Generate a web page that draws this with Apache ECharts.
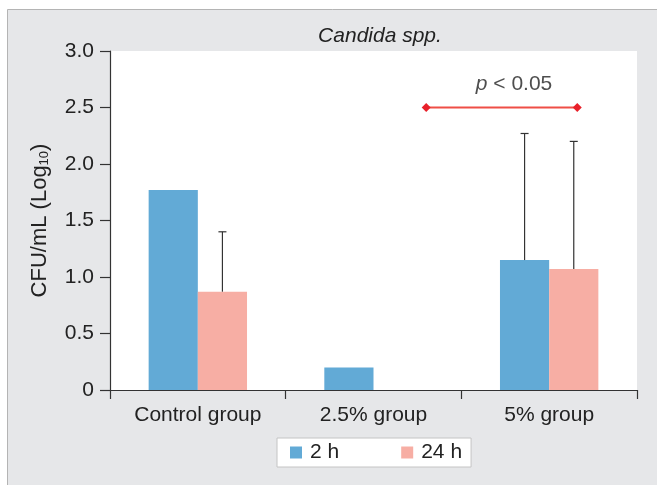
<!DOCTYPE html>
<html><head><meta charset="utf-8">
<script src="https://cdn.jsdelivr.net/npm/echarts@6/dist/echarts.min.js"></script>
<style>html,body{margin:0;padding:0;background:#fff}#c{width:657px;height:485px}</style>
</head><body><div id="c"></div>
<script>
var categories = ['Control group', '2.5% group', '5% group'];
var seriesNames = ['2 h', '24 h'];
var values2h = [1.77, 0.2, 1.15];
var values24h = [0.87, 0, 1.07];
var errUpper2h = [null, null, 2.27];
var errUpper24h = [1.40, null, 2.20];
var yTicks = [0, 0.5, 1.0, 1.5, 2.0, 2.5, 3.0];
var sigLine = [[1.80, 2.5], [2.66, 2.5]];
var sigLabel = [[2.30, 2.71]];

var FONT = '"Liberation Sans", Arial, sans-serif';
var FS = 21;
var chart = echarts.init(document.getElementById('c'));

function errData(vals, ups) {
  var out = [];
  for (var i = 0; i < vals.length; i++) if (ups[i] != null) out.push([i, vals[i], ups[i]]);
  return out;
}
function errRender(sign) {
  return function (params, api) {
    var band = api.size([1, 0])[0];
    var bw = band * 0.56 / 2;
    var off = sign * bw / 2;
    var lo = api.coord([api.value(0), api.value(1)]);
    var hi = api.coord([api.value(0), api.value(2)]);
    var x = lo[0] + off;
    var cap = 4;
    return {
      type: 'group',
      children: [
        { type: 'line', shape: { x1: x, y1: lo[1], x2: x, y2: hi[1] }, style: { stroke: '#333', lineWidth: 1.2 } },
        { type: 'line', shape: { x1: x - cap, y1: hi[1], x2: x + cap, y2: hi[1] }, style: { stroke: '#333', lineWidth: 1.2 } }
      ]
    };
  };
}

chart.setOption({
  animation: false,
  backgroundColor: '#fff',
  textStyle: { fontFamily: FONT },
  graphic: [{
    type: 'rect', left: 7, top: 9, z: -10,
    shape: { width: 660, height: 490 },
    style: { fill: '#e6e7e9', stroke: '#b4b4b4', lineWidth: 1 }
  }, {
    type: 'rect', left: 110, top: 51, z: -9,
    shape: { width: 527, height: 339 },
    style: { fill: '#ffffff' }
  }],
  title: {
    text: 'Candida spp.', left: 375, textAlign: 'center', top: 21,
    textStyle: { fontFamily: FONT, fontStyle: 'italic', fontWeight: 'normal', fontSize: FS, color: '#222' }
  },
  legend: {
    data: seriesNames, left: 277, top: 438,
    backgroundColor: '#fff', borderColor: '#c4c4c4', borderWidth: 1,
    padding: [4, 9, 4, 13], itemGap: 62, itemWidth: 12, itemHeight: 12,
    icon: 'rect',
    textStyle: { fontFamily: FONT, fontSize: FS, color: '#222', padding: [0, 0, 0, 3] }
  },
  grid: { left: 110, right: 20, top: 51, bottom: 95 },
  xAxis: [{
    type: 'category', data: categories,
    axisLine: { lineStyle: { color: '#333', width: 1.2 } },
    axisTick: { show: true, length: 9, lineStyle: { color: '#333', width: 1.2 } },
    axisLabel: { fontFamily: FONT, fontSize: FS, color: '#222', margin: 15 }
  }, {
    type: 'value', min: 0, max: 3, show: false
  }],
  yAxis: {
    type: 'value', min: 0, max: 3, interval: 0.5,
    name: 'CFU/mL (Log{sub|10})', nameLocation: 'middle', nameGap: 59, nameRotate: 90,
    nameTextStyle: { fontFamily: FONT, fontSize: 22, color: '#222',
      rich: { sub: { fontSize: 13, fontFamily: FONT, color: '#222', verticalAlign: 'bottom', padding: [9, 0, 0, 0] } } },
    axisLine: { show: true, lineStyle: { color: '#333', width: 1.2 } },
    axisTick: { show: true, length: 10, lineStyle: { color: '#333', width: 1.2 } },
    splitLine: { show: false },
    axisLabel: { fontFamily: FONT, fontSize: FS, color: '#222', margin: 16,
      formatter: function (v) { return v === 0 ? '0' : v.toFixed(1); } }
  },
  series: [{
    name: '2 h', type: 'bar', data: values2h, barGap: '0%', barCategoryGap: '44%',
    itemStyle: { color: '#62aad6' }
  }, {
    name: '24 h', type: 'bar', data: values24h, barGap: '0%', barCategoryGap: '44%',
    itemStyle: { color: '#f7aea4' }
  }, {
    type: 'custom', renderItem: errRender(-1), data: errData(values2h, errUpper2h), z: 5, silent: true
  }, {
    type: 'custom', renderItem: errRender(1), data: errData(values24h, errUpper24h), z: 5, silent: true
  }, {
    type: 'line', xAxisIndex: 1, data: sigLine, symbol: 'diamond', symbolSize: 9,
    lineStyle: { color: '#ef4f46', width: 2 }, itemStyle: { color: '#e8202a' }, z: 6, silent: true
  }, {
    type: 'scatter', xAxisIndex: 1, data: sigLabel, symbolSize: 0, silent: true,
    label: { show: true, position: 'inside', fontFamily: FONT, fontSize: FS, color: '#222',
      formatter: '{i|p} < 0.05', rich: { i: { fontStyle: 'italic', fontSize: FS, fontFamily: FONT, color: '#222' } } }
  }]
});
</script></body></html>
